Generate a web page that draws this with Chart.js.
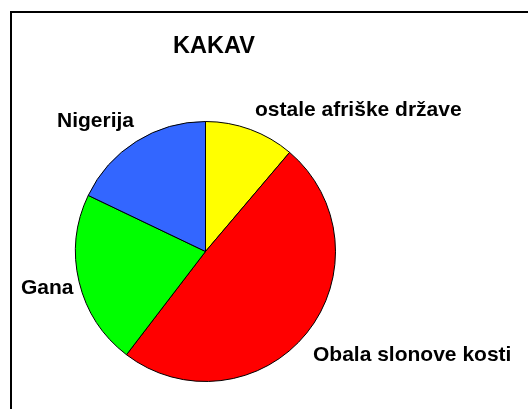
<!DOCTYPE html>
<html>
<head>
<meta charset="utf-8">
<script src="https://cdn.jsdelivr.net/npm/chart.js@4/dist/chart.umd.min.js"></script>
<style>
  html, body { margin: 0; padding: 0; background: #ffffff; }
  #wrap { width: 528px; height: 409px; }
  canvas { display: block; }
</style>
</head>
<body>
<div id="wrap"><canvas id="c" width="528" height="409"></canvas></div>
<script>
const chartTitle = 'KAKAV';
const categories = ['ostale afriške države', 'Obala slonove kosti', 'Gana', 'Nigerija'];
const shares = [11.2, 49.2, 21.7, 17.9];
const sliceColors = ['#FFFF00', '#FF0000', '#00FF00', '#3366FF'];

// label anchor placement (left x, baseline y) – layout only
const labelAnchors = [[255, 116], [313, 361], [21, 294], [57, 127]];

const decor = {
  id: 'decor',
  beforeDraw(chart) {
    const ctx = chart.ctx;
    ctx.save();
    ctx.fillStyle = '#ffffff';
    ctx.fillRect(0, 0, chart.width, chart.height);
    ctx.strokeStyle = '#000000';
    ctx.lineWidth = 2;
    ctx.strokeRect(11, 12, 600, 600);
    ctx.restore();
  },
  afterDraw(chart) {
    const ctx = chart.ctx;
    ctx.save();
    ctx.fillStyle = '#000000';
    ctx.textBaseline = 'alphabetic';
    ctx.font = 'bold 23.5px "Liberation Sans", Arial, sans-serif';
    ctx.textAlign = 'center';
    ctx.fillText(chartTitle, 214, 53);
    ctx.font = 'bold 21px "Liberation Sans", Arial, sans-serif';
    ctx.textAlign = 'left';
    chart.data.labels.forEach((lab, i) => {
      const [x, y] = labelAnchors[i];
      ctx.fillText(lab, x, y);
    });
    ctx.restore();
  }
};

new Chart(document.getElementById('c'), {
  type: 'pie',
  data: {
    labels: categories,
    datasets: [{
      data: shares,
      backgroundColor: sliceColors,
      borderColor: '#000000',
      borderWidth: 1,
      borderAlign: 'center'
    }]
  },
  options: {
    responsive: false,
    animation: false,
    rotation: 0,
    layout: { padding: { left: 75, top: 121, right: 192, bottom: 27 } },
    plugins: {
      legend: { display: false },
      title: { display: false },
      tooltip: { enabled: false }
    }
  },
  plugins: [decor]
});
</script>
</body>
</html>
